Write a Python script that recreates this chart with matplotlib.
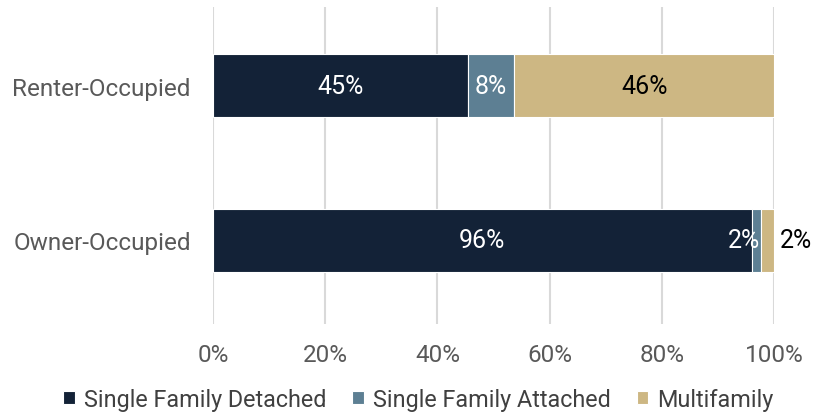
import matplotlib.pyplot as plt
from matplotlib.ticker import PercentFormatter

plt.rcParams['font.family'] = ['Roboto', 'DejaVu Sans']

# housing type shares by tenure (percent)
tenure = ["Owner-Occupied", "Renter-Occupied"]
series = ["Single Family Detached", "Single Family Attached", "Multifamily"]
detached = [96.0, 45.4]
attached = [1.6, 8.3]
multifamily = [2.4, 46.3]
colors = ["#132237", "#5d7f93", "#cdb783"]
label_colors = ["white", "white", "black"]

fig = plt.figure(figsize=(8.14, 4.14), dpi=100)
ax = fig.add_axes([0.2617, 0.215, 0.6892, 0.766])

ypos = range(len(tenure))
left = [0.0, 0.0]
for name, vals, col, lc in zip(series, [detached, attached, multifamily], colors, label_colors):
    ax.barh(ypos, vals, left=left, height=0.41, color=col, edgecolor="white",
            linewidth=0.8, label=name, zorder=3)
    for i, v in enumerate(vals):
        txt = f"{v:.0f}%"
        if v >= 5:
            ax.text(left[i] + v / 2, i, txt, ha="center", va="center",
                    color=lc, fontsize=18, zorder=4)
        elif name == "Multifamily":
            ax.text(left[i] + v + 1.0, i, txt, ha="left", va="center",
                    color=lc, fontsize=18, zorder=4)
        else:
            ax.text(left[i] + v, i, txt, ha="right", va="center",
                    color=lc, fontsize=18, zorder=4)
    left = [a + b for a, b in zip(left, vals)]

ax.set_xlim(0, 100)
ax.set_ylim(-0.54, 1.51)
ax.set_xticks([0, 20, 40, 60, 80, 100])
ax.xaxis.set_major_formatter(PercentFormatter(decimals=0))
ax.set_yticks(list(ypos))
ax.set_yticklabels(tenure)
ax.tick_params(axis="both", length=0, labelsize=17.5, labelcolor="#595959")
ax.tick_params(axis="x", pad=14)
ax.tick_params(axis="y", pad=16)
ax.grid(axis="x", color="#d9d9d9", linewidth=1.5, zorder=0)
for s in ax.spines.values():
    s.set_visible(False)

fig.legend(loc="lower center", bbox_to_anchor=(0.514, -0.045), ncol=3, frameon=False,
           fontsize=16.8, handlelength=0.5, handleheight=0.5, handletextpad=0.4,
           columnspacing=1.1, labelcolor="#404040")

fig.savefig("out.png", dpi=100)
